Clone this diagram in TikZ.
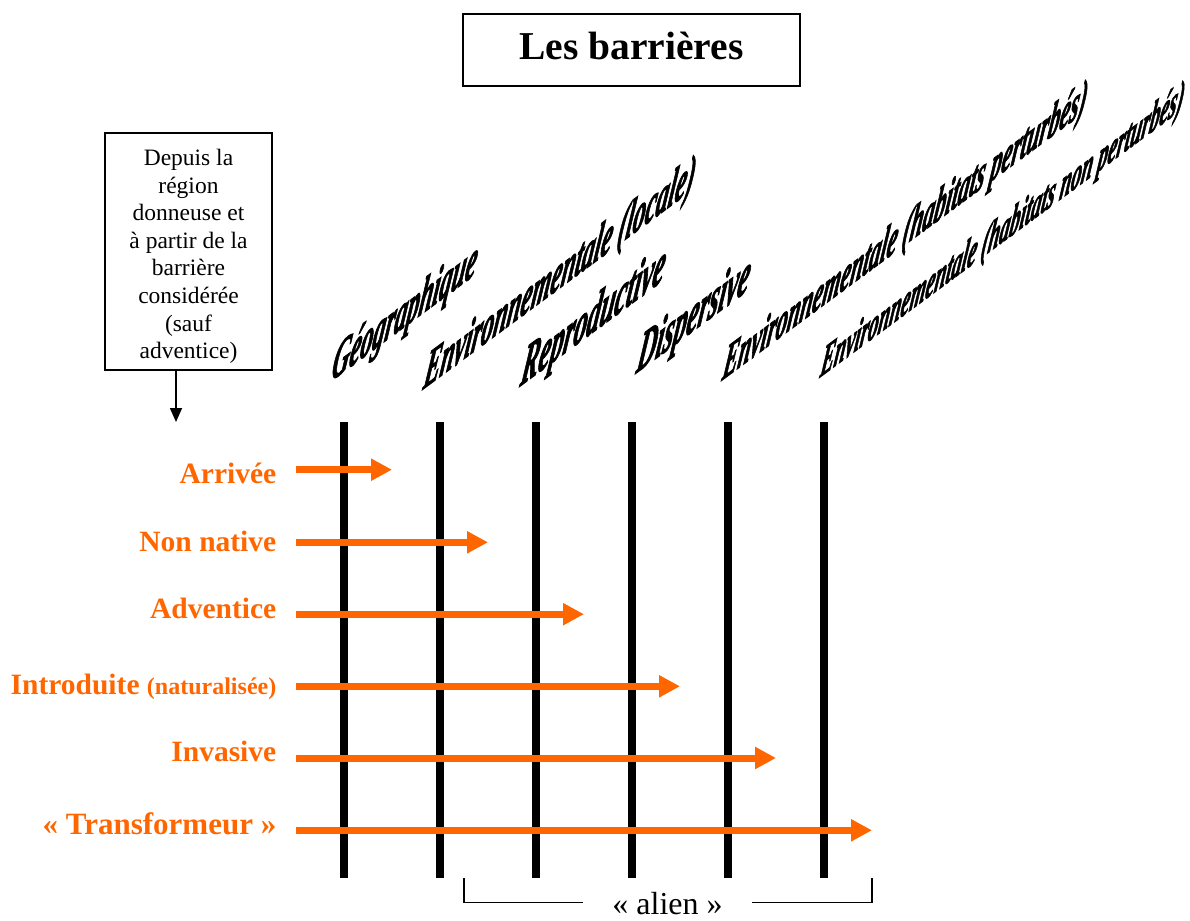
\documentclass[tikz,border=0pt]{standalone}
\usepackage{fontspec}
\setmainfont{Liberation Serif}
\newfontfamily\wordart{Liberation Serif}[BoldItalicFeatures={FakeBold=2.5}]
\usetikzlibrary{arrows.meta}
\definecolor{flow}{HTML}{FF6600}

% one slanted (sheared) barrier name: name, x, y of baseline start, size, text
\newcommand\barname[5]{%
  \begin{scope}[shift={(#2,#3)}, yslant=0.74, xslant=0.2, yscale=2.0]
    \node[slanted, font=\fontsize{#4}{#4}\wordart\bfseries\itshape] (#1) at (0,0) {#5};
  \end{scope}}

\begin{document}
\begin{tikzpicture}[x=1pt, y=-1pt,
  frame/.style={draw=black, line width=1.6pt, inner sep=0pt},
  barrier/.style={line width=8pt, draw=black},
  flowarrow/.style={draw=flow, line width=7pt, -{Triangle[length=21pt,width=21pt]}},
  stage/.style={text=flow, anchor=base east, inner sep=0pt,
    font=\fontsize{29.5}{30}\selectfont\bfseries},
  slanted/.style={transform shape, anchor=base west, inner sep=0pt},
  bracket/.style={draw=black, line width=1.3pt}]
\useasboundingbox (0,0) rectangle (1190,920);

% title
\node[frame, minimum width=337pt, minimum height=72pt, text height=26.6pt, text depth=6.6pt,
  font=\fontsize{39.5}{40}\selectfont\bfseries] (title) at (631.5,50) {Les barrières};

% source box and its arrow
\node[frame, line width=1.4pt, minimum width=167pt, minimum height=237pt] (src) at (188.5,251.5) {};
\node[anchor=north, inner sep=0pt, align=center, font=\fontsize{23.5}{27.6}\selectfont] (srctext) at (188.5,149)
  {Depuis la\\région\\donneuse et\\à partir de la\\barrière\\considérée\\(sauf\\adventice)};
\coordinate (entry) at (176,422);
\draw[line width=1.6pt, -{Triangle[length=14pt,width=12pt]}] (src.south -| entry) -- (entry);

% barrier names
\barname{geo}{330}{382}{24.5}{Géographique}
\barname{envloc}{422}{390}{24.5}{Environnementale (locale)}
\barname{repro}{519}{387}{26.3}{Reproductive}
\barname{disp}{635}{374}{26.2}{Dispersive}
\barname{envpert}{721}{381}{22.7}{Environnementale (habitats perturbés)}
\barname{envnon}{819}{378}{20.3}{Environnementale (habitats non perturbés)}

% barriers
\foreach \i in {1,...,6} {
  \coordinate (bt\i) at ({248+96*\i},422);
  \coordinate (bb\i) at ({248+96*\i},878);
  \draw[barrier] (bt\i) -- (bb\i);
}

% stages
\node[stage] (s1) at (276.5,483.3) {Arrivée};
\node[stage] (s2) at (276.5,551) {Non native};
\node[stage] (s3) at (276.5,618.3) {Adventice};
\node[stage] (s4) at (276.5,694.3) {Introduite {\fontsize{24}{24}\selectfont(naturalisée)}};
\node[stage] (s5) at (276.5,761.7) {Invasive};
\node[stage, font=\fontsize{31}{31}\selectfont\bfseries] (s6) at (276.5,834.3) {« Transformeur »};

\foreach \i/\y in {1/469.7, 2/542.3, 3/614.2, 4/686.3, 5/758, 6/830.3} {
  \coordinate (a\i) at (296,\y);
  \coordinate (t\i) at ({296+96*\i},\y);
  \draw[flowarrow] (a\i) -- (t\i);
}

% alien bracket
\node[anchor=base, inner sep=0pt, font=\fontsize{32}{33}\selectfont] (alien) at (667.5,914) {« alien »};
\coordinate (bl) at (464,878);
\coordinate (blend) at (583,902.5);
\coordinate (brstart) at (752,902.5);
\coordinate (br) at (872,878);
\draw[bracket] (bl) |- (blend);
\draw[bracket] (brstart) -| (br);
\end{tikzpicture}
\end{document}
